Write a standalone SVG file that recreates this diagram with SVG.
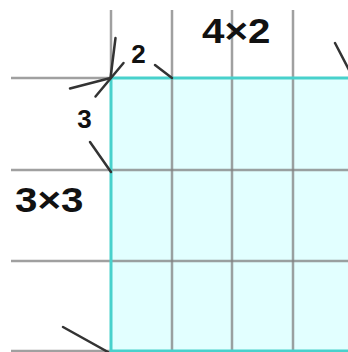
<svg xmlns="http://www.w3.org/2000/svg" width="348" height="352" viewBox="0 0 348 352">
<style>
.grid{stroke:#808080;stroke-opacity:0.75;stroke-width:2.5;fill:none}
.edge{stroke:#48d1cc;stroke-width:3;fill:none}
.tick{stroke:#333;stroke-width:2.5;stroke-linecap:round;fill:none}
.big{font-family:"Liberation Sans",Arial,sans-serif;font-weight:bold;font-size:36px;fill:#111}
.small{font-family:"Liberation Sans",Arial,sans-serif;font-weight:bold;font-size:26px;fill:#111;text-anchor:middle}
</style>
<rect id="region" x="111" y="78" width="240" height="276" fill="#e2ffff"/>
<g id="grid">
<line class="grid" x1="11" y1="78" x2="111" y2="78"/>
<line class="grid" x1="11" y1="170" x2="348" y2="170"/>
<line class="grid" x1="11" y1="261" x2="348" y2="261"/>
<line class="grid" x1="11" y1="351" x2="111" y2="351"/>
<line class="grid" x1="111" y1="10" x2="111" y2="78"/>
<line class="grid" x1="172" y1="10" x2="172" y2="352"/>
<line class="grid" x1="232" y1="10" x2="232" y2="352"/>
<line class="grid" x1="293" y1="10" x2="293" y2="352"/>
</g>
<g id="edges">
<line class="edge" x1="111" y1="78" x2="348" y2="78"/>
<line class="edge" x1="111" y1="78" x2="111" y2="352"/>
<line class="edge" x1="111" y1="351" x2="348" y2="351"/>
</g>
<g id="ticks">
<line class="tick" x1="115.5" y1="38" x2="110.5" y2="78"/>
<line class="tick" x1="70" y1="88.5" x2="110.5" y2="78"/>
<line class="tick" x1="123.5" y1="63" x2="95.5" y2="96.5"/>
<line class="tick" x1="155" y1="65" x2="172" y2="78"/>
<line class="tick" x1="90" y1="142" x2="111" y2="172"/>
<line class="tick" x1="63" y1="327" x2="108" y2="352"/>
<line class="tick" x1="335" y1="43" x2="349" y2="70"/>
</g>
<g id="labels">
<text class="big" transform="translate(202,43) scale(1.12,1)">4×2</text>
<text class="big" transform="translate(15,212) scale(1.12,1)">3×3</text>
<text class="small" x="138.5" y="63">2</text>
<text class="small" x="84.5" y="128">3</text>
</g>
</svg>
